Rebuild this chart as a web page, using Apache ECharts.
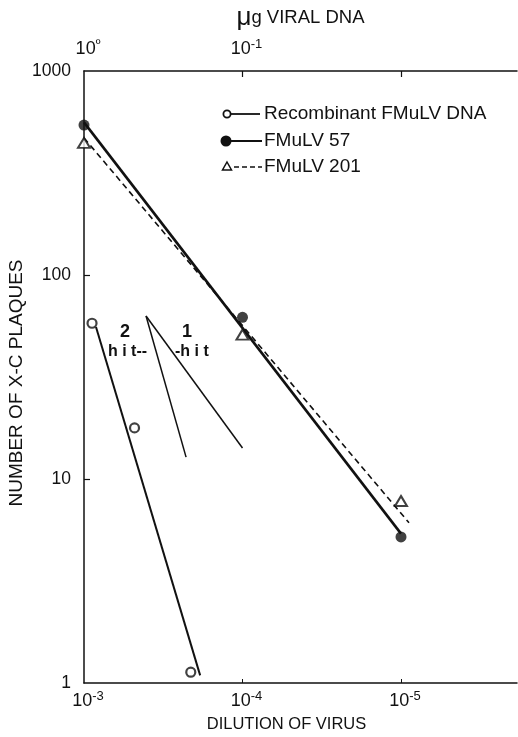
<!DOCTYPE html>
<html>
<head>
<meta charset="utf-8">
<script src="https://cdn.jsdelivr.net/npm/echarts@6/dist/echarts.min.js"></script>
<style>
html,body{margin:0;padding:0;background:#fff;}
#c{width:518px;height:737px;}
</style>
</head>
<body>
<div id="c"></div>
<script>
// ---- data ----
const dilutionTicks = [1e-3, 1e-4, 1e-5];
const dilutionMinorTicks = [1e-4, 1e-5];
const dnaLabelTicks = [1, 0.1];
const dnaTicks = [0.1, 0.01];
const plaqueTicks = [1, 10, 100, 1000];
const plaqueInnerTicks = [10, 100];

const fmulv57Dilution = [1e-3, 1e-4, 1e-5];
const fmulv57Plaques = [543, 62, 5.2];
const fmulv57FitDilution = [1e-3, 1e-5];
const fmulv57FitPlaques = [560, 5.4];

const fmulv201Dilution = [1e-3, 1e-4, 1e-5];
const fmulv201Plaques = [444, 51, 7.8];
const fmulv201FitDilution = [1e-3, 8.9e-6];
const fmulv201FitPlaques = [470, 6.1];

const recombDilution = [8.9e-4, 4.8e-4, 2.12e-4];
const recombPlaques = [58, 17.8, 1.13];
const recombFitDilution = [8.4e-4, 1.85e-4];
const recombFitPlaques = [55.6, 1.09];

const twoHitDilution = [4.06e-4, 2.27e-4];
const twoHitPlaques = [63, 12.8];
const oneHitDilution = [4.06e-4, 1.0e-4];
const oneHitPlaques = [63, 14.2];

const legendNames = ['Recombinant FMuLV DNA', 'FMuLV 57', 'FMuLV 201'];

// ---- helpers ----
const FONT = 'Liberation Sans, Arial, sans-serif';
const zip = (xs, ys) => xs.map((x, i) => [x, ys[i]]);
const pow10Label = v => {
  const e = Math.round(Math.log10(v));
  return '{b|10}{s|' + (e < 0 ? '-' + Math.abs(e) : 'º') + '}';
};
const supRich = {
  b: { fontSize: 18, fontFamily: FONT, color: '#111' },
  s: { fontSize: 13, fontFamily: FONT, color: '#111', padding: [0, 0, 10, 0] }
};

const chart = echarts.init(document.getElementById('c'), null, { renderer: 'canvas' });

const black = '#111';
const option = {
  animation: false,
  backgroundColor: '#fff',
  grid: { left: 84, right: 1, top: 71, bottom: 54, containLabel: false, outerBoundsMode: 'none' },
  xAxis: [
    {
      type: 'log', logBase: 10, position: 'bottom',
      min: 1.854e-6, max: 1e-3, inverse: true,
      name: 'DILUTION OF VIRUS', nameLocation: 'middle', nameGap: 33,
      nameTextStyle: { fontSize: 16.5, fontFamily: FONT, color: black, padding: [0, 28, 0, 0] },
      axisLine: { show: true, lineStyle: { color: black, width: 1.5 } },
      axisTick: { show: true, inside: true, length: 4, customValues: dilutionMinorTicks, lineStyle: { color: black, width: 1 } },
      axisLabel: { customValues: dilutionTicks, formatter: pow10Label, rich: supRich, margin: 7, padding: [0, 0, 0, 8] },
      splitLine: { show: false }, minorTick: { show: false }
    },
    {
      type: 'log', logBase: 10, position: 'top',
      min: 1.854e-3, max: 1, inverse: true,
      name: '{m|μ}{n|g VIRAL DNA}', nameLocation: 'middle', nameGap: 40,
      nameTextStyle: {
        rich: {
          m: { fontSize: 26, fontFamily: FONT, color: black },
          n: { fontSize: 18.5, fontFamily: FONT, color: black }
        }
      },
      axisLine: { show: true, lineStyle: { color: black, width: 1.5 } },
      axisTick: { show: true, inside: true, length: 6, customValues: dnaTicks, lineStyle: { color: black, width: 1.2 } },
      axisLabel: { customValues: dnaLabelTicks, formatter: pow10Label, rich: supRich, margin: 10, padding: [0, 0, 0, 8] },
      splitLine: { show: false }, minorTick: { show: false }
    }
  ],
  yAxis: {
    type: 'log', logBase: 10, min: 1, max: 1000,
    name: 'NUMBER OF X-C PLAQUES', nameLocation: 'middle', nameGap: 58, nameRotate: 90, nameMoveOverlap: false,
    nameTextStyle: { fontSize: 19, fontFamily: FONT, color: black, padding: [0, 12, 0, 0] },
    axisLine: { show: true, lineStyle: { color: black, width: 1.5 } },
    axisTick: { show: true, inside: true, length: 6, customValues: plaqueInnerTicks, lineStyle: { color: black, width: 1.2 } },
    axisLabel: { customValues: plaqueTicks, formatter: v => String(Math.round(v)), fontSize: 17.5, fontFamily: FONT, color: black, margin: 13 },
    splitLine: { show: false }, minorTick: { show: false }
  },
  series: [
    { type: 'line', name: 'fit57', data: zip(fmulv57FitDilution, fmulv57FitPlaques), symbol: 'none',
      lineStyle: { color: black, width: 2.6 }, z: 3 },
    { type: 'line', name: 'fit201', data: zip(fmulv201FitDilution, fmulv201FitPlaques), symbol: 'none',
      lineStyle: { color: black, width: 1.6, type: [6, 4] }, z: 3 },
    { type: 'line', name: 'fitRecomb', data: zip(recombFitDilution, recombFitPlaques), symbol: 'none',
      lineStyle: { color: black, width: 2 }, z: 3 },
    { type: 'line', name: '2 hit', data: zip(twoHitDilution, twoHitPlaques), symbol: 'none',
      lineStyle: { color: black, width: 1.5 }, z: 3 },
    { type: 'line', name: '1 hit', data: zip(oneHitDilution, oneHitPlaques), symbol: 'none',
      lineStyle: { color: black, width: 1.5 }, z: 3 },
    { type: 'scatter', name: legendNames[0], data: zip(recombDilution, recombPlaques), symbol: 'circle', symbolSize: 9,
      itemStyle: { color: '#fff', borderColor: black, borderWidth: 2.2 }, z: 5 },
    { type: 'scatter', name: legendNames[1], data: zip(fmulv57Dilution, fmulv57Plaques), symbol: 'circle', symbolSize: 11,
      itemStyle: { color: black, borderColor: black, borderWidth: 0 }, z: 5 },
    { type: 'scatter', name: legendNames[2], data: zip(fmulv201Dilution, fmulv201Plaques), symbol: 'triangle', symbolSize: [12, 10],
      itemStyle: { color: '#fff', borderColor: black, borderWidth: 2 }, z: 5 }
  ],
  graphic: [
    // legend
    { type: 'circle', shape: { cx: 227, cy: 114, r: 3.6 }, style: { fill: '#fff', stroke: black, lineWidth: 1.8 }, z: 10 },
    { type: 'line', shape: { x1: 231, y1: 114, x2: 260, y2: 114 }, style: { stroke: black, lineWidth: 1.8 }, z: 10 },
    { type: 'text', x: 264, y: 114, style: { text: legendNames[0], font: '19px ' + FONT, fill: black, verticalAlign: 'middle' }, z: 10 },
    { type: 'circle', shape: { cx: 226, cy: 141, r: 5.5 }, style: { fill: black }, z: 10 },
    { type: 'line', shape: { x1: 230, y1: 141, x2: 262, y2: 141 }, style: { stroke: black, lineWidth: 2 }, z: 10 },
    { type: 'text', x: 264, y: 141, style: { text: legendNames[1], font: '19px ' + FONT, fill: black, verticalAlign: 'middle' }, z: 10 },
    { type: 'polygon', shape: { points: [[227, 162], [231.5, 170], [222.5, 170]] }, style: { fill: '#fff', stroke: black, lineWidth: 1.5 }, z: 10 },
    { type: 'line', shape: { x1: 234, y1: 167, x2: 262, y2: 167 }, style: { stroke: black, lineWidth: 1.5, lineDash: [5, 3] }, z: 10 },
    { type: 'text', x: 264, y: 167, style: { text: legendNames[2], font: '19px ' + FONT, fill: black, verticalAlign: 'middle' }, z: 10 },
    // hit annotations
    { type: 'text', x: 125, y: 332, style: { text: '2', font: 'bold 18px ' + FONT, fill: black, align: 'center', verticalAlign: 'middle' }, z: 10 },
    { type: 'text', x: 108, y: 352, style: { text: 'h i t--', font: 'bold 16px ' + FONT, fill: black, verticalAlign: 'middle' }, z: 10 },
    { type: 'text', x: 187, y: 332, style: { text: '1', font: 'bold 18px ' + FONT, fill: black, align: 'center', verticalAlign: 'middle' }, z: 10 },
    { type: 'text', x: 175, y: 352, style: { text: '-h i t', font: 'bold 16px ' + FONT, fill: black, verticalAlign: 'middle' }, z: 10 }
  ]
};
chart.setOption(option);
</script>
</body>
</html>
